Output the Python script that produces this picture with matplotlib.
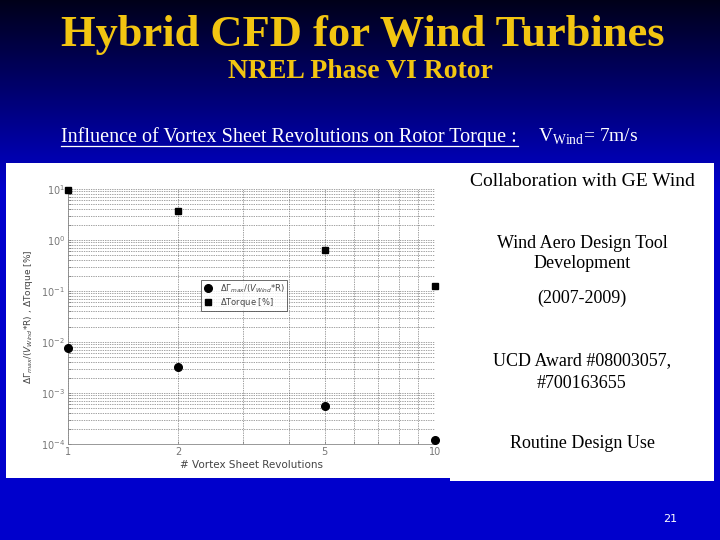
import numpy as np
import matplotlib.pyplot as plt
from matplotlib.patches import Rectangle

revolutions = [1, 2, 5, 10]
delta_gamma = [0.0075, 0.0032, 0.000565, 0.000122]
delta_torque = [9.4, 3.65, 0.645, 0.127]

x_ticks = [1, 2, 5, 10]
x_tick_labels = ['1', '2', '5', '10']

side_lines = [
    ("Collaboration with GE Wind", 181, 14),
    ("Wind Aero Design Tool", 243, 13),
    ("Development", 264, 13),
    ("(2007-2009)", 298, 13),
    ("UCD Award #08003057,", 361, 13),
    ("#700163655", 383, 13),
    ("Routine Design Use", 444, 13),
]

serif = ['Liberation Serif', 'DejaVu Serif']
gold = '#f2c511'

fig = plt.figure(figsize=(7.2, 5.4), dpi=100)

# slide background
bg = fig.add_axes([0, 0, 1, 1])
grad = np.linspace(0, 1, 540)
top = np.array([0.0, 0.0, 0.10])
bottom = np.array([0.0, 0.0, 0.80])
t = np.clip(grad / 0.35, 0, 1)[:, None]
img = top + (bottom - top) * t
bg.imshow(img[:, None, :].repeat(2, axis=1), aspect='auto', extent=[0, 720, 540, 0])
bg.set_xlim(0, 720)
bg.set_ylim(540, 0)
bg.axis('off')

bg.add_patch(Rectangle((6, 163), 454, 315, facecolor='white', edgecolor='none'))
bg.add_patch(Rectangle((450, 163), 264, 318, facecolor='white', edgecolor='none'))

bg.text(363, 35, "Hybrid CFD for Wind Turbines", color=gold, fontsize=32,
        fontweight='bold', family=serif, ha='center', va='center')
bg.text(360, 72, "NREL Phase VI Rotor", color=gold, fontsize=20,
        fontweight='bold', family=serif, ha='center', va='center')
bg.text(61, 137, "Influence of Vortex Sheet Revolutions on Rotor Torque :",
        color='white', fontsize=14.5, family=serif, ha='left', va='center')
bg.plot([61, 518], [146, 146], color='white', lw=0.9)
bg.text(538, 137, r"V$_{\mathregular{Wind}}$= 7m/s", color='white', fontsize=14,
        family=serif, ha='left', va='center')

for txt, y, fs in side_lines:
    bg.text(582, y, txt, color='black', fontsize=fs, family=serif,
            ha='center', va='center')

bg.text(670, 519, "21", color='white', fontsize=8, ha='center', va='center')

# chart
ax = fig.add_axes([68 / 720, 1 - 444 / 540, 367 / 720, 255 / 540])
ax.set_xscale('log')
ax.set_yscale('log')
ax.plot(revolutions, delta_gamma, 'o', color='black', ms=5.5,
        label=r'$\Delta\Gamma_{max}/(V_{Wind}$*R)', clip_on=False, zorder=5)
ax.plot(revolutions, delta_torque, 's', color='black', ms=5,
        label=r'$\Delta$Torque [%]', clip_on=False, zorder=5)
ax.set_xlim(1, 10)
ax.set_ylim(1e-4, 1e1)
ax.set_xticks(x_ticks)
ax.set_xticklabels(x_tick_labels)
ax.xaxis.set_minor_formatter(plt.NullFormatter())
ax.grid(True, which='both', color='#444444', ls=(0, (1, 1.5)), lw=0.5)
for s in ['top', 'right']:
    ax.spines[s].set_visible(False)
for s in ['left', 'bottom']:
    ax.spines[s].set_color('#888888')
    ax.spines[s].set_linewidth(0.6)
ax.tick_params(which='both', colors='#777777', labelsize=7, length=2, width=0.5,
               direction='in', pad=2)
ax.set_xlabel('# Vortex Sheet Revolutions', fontsize=7.5, color='#444444', labelpad=2)
ax.set_ylabel(r'$\Delta\Gamma_{max}/(V_{Wind}$*R) , $\Delta$Torque [%]',
              fontsize=6.5, color='#444444', labelpad=4)
leg = ax.legend(loc='upper left', bbox_to_anchor=(0.35, 0.66), fontsize=6,
                frameon=True, fancybox=False, edgecolor='#444444',
                handletextpad=0.8, borderpad=0.3, labelspacing=0.1,
                handlelength=1.2)
leg.get_frame().set_linewidth(0.7)
for txt in leg.get_texts():
    txt.set_color('#444444')

fig.savefig('out.png', dpi=100)
